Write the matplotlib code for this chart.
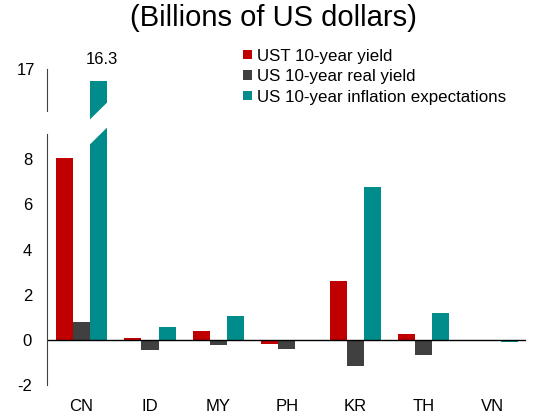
import matplotlib
matplotlib.use("Agg")
import matplotlib.pyplot as plt
from matplotlib.patches import Patch, Polygon
import numpy as np

plt.rcParams['font.family'] = ['Liberation Sans', 'DejaVu Sans']
plt.rcParams['axes.unicode_minus'] = False

countries = ["CN", "ID", "MY", "PH", "KR", "TH", "VN"]
ust_yield = [8.05, 0.07, 0.40, -0.20, 2.60, 0.25, -0.04]
real_yield = [0.80, -0.46, -0.23, -0.39, -1.15, -0.65, 0.00]
inflation_exp = [16.3, 0.59, 1.07, 0.00, 6.75, 1.21, -0.08]
labels = ["UST 10-year yield", "US 10-year real yield", "US 10-year inflation expectations"]
colors = ["#C00000", "#404040", "#008C8A"]

fig = plt.figure(figsize=(5.35, 4.19), dpi=100)
ax = fig.add_axes([0.0884, 0.0811, 0.8957, 0.6165])
axt = fig.add_axes([0.0884, 0.7136, 0.8957, 0.1217])

x = np.arange(len(countries))
w = 0.25
series = [ust_yield, real_yield, inflation_exp]
for a in (ax, axt):
    for i, (vals, c) in enumerate(zip(series, colors)):
        a.bar(x + (i - 1) * w, vals, w, color=c, linewidth=0)
    a.set_xlim(-0.5, 6.5)
    for s in ("top", "right", "bottom"):
        a.spines[s].set_visible(False)
    a.spines["left"].set_color("#404040")
    a.tick_params(axis="both", length=0, labelsize=12, pad=11)

ax.set_ylim(-2, 9.44)
ax.set_yticks([-2, 0, 2, 4, 6, 8])
ax.spines["left"].set_bounds(-2, 9.1)
ax.axhline(0, color="black", linewidth=1)
ax.set_xticks(x)
ax.set_xticklabels(countries)
ax.tick_params(axis="x", pad=10)

axt.set_ylim(13.95, 17)
axt.set_yticks([17])
axt.spines["left"].set_bounds(14.5, 17)
axt.set_xticks([])
axt.tick_params(axis="y", pad=9)
axt.patch.set_alpha(0)

axt.annotate("16.3", (x[0] + w, inflation_exp[0]), xytext=(2, 10), textcoords="offset points",
             ha="center", va="bottom", fontsize=12, annotation_clip=False)

# break marker across the CN inflation bar
fig.canvas.draw()
x0, x1 = x[0] + w / 2 - 0.01, x[0] + 1.5 * w + 0.01
p_bl = ax.transData.transform((x0, 8.63))
p_br = ax.transData.transform((x1, 9.44))
p_tr = axt.transData.transform((x1, 15.04))
p_tl = axt.transData.transform((x0, 13.95))
fig.patches.append(Polygon([p_bl, p_br, p_tr, p_tl], closed=True, transform=None,
                           facecolor="white", edgecolor="none", zorder=10))

handles = [Patch(facecolor=c, edgecolor="none") for c in colors]
fig.legend(handles, labels, loc="upper left", bbox_to_anchor=(0.442, 0.9), frameon=False,
           fontsize=12.2, handlelength=0.5, handleheight=0.5, handletextpad=0.3,
           labelspacing=0.32, borderaxespad=0)

fig.suptitle("(Billions of US dollars)", fontsize=21, y=0.99, x=0.512)

fig.savefig("out.png", dpi=100)
